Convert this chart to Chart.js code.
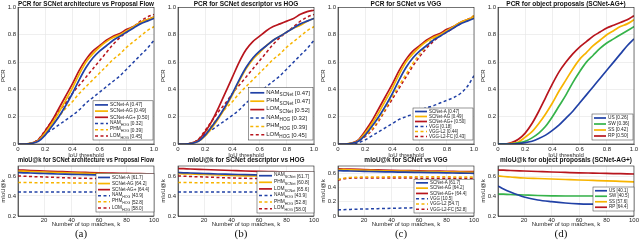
<!DOCTYPE html>
<html>
<head>
<meta charset="utf-8">
<script src="https://cdn.jsdelivr.net/npm/chart.js@4.4.1/dist/chart.umd.min.js"></script>
<style>
  html, body { margin: 0; padding: 0; background: #fff; }
  body { width: 640px; height: 240px; position: relative; overflow: hidden; }
  .panel { position: absolute; }
  .tag { position: absolute; top: 227px; width: 160px; text-align: center; font: 11px 'Liberation Serif', 'DejaVu Serif', serif; color: #111; }
</style>
</head>
<body>
<script>
// IoU thresholds for the PCR curves (top row)
const iou = [0, 0.05, 0.1, 0.15, 0.2, 0.25, 0.3, 0.35, 0.4, 0.45, 0.5, 0.55, 0.6, 0.65, 0.7, 0.75, 0.8, 0.85, 0.9, 0.95, 1];

const scnetA   = [0, 0, 0.005, 0.02, 0.065, 0.13, 0.2, 0.28, 0.37, 0.47, 0.56, 0.63, 0.68, 0.72, 0.76, 0.79, 0.82, 0.85, 0.88, 0.9, 0.92];
const scnetAG  = [0, 0, 0.006, 0.025, 0.08, 0.15, 0.23, 0.32, 0.41, 0.51, 0.6, 0.66, 0.71, 0.75, 0.78, 0.8, 0.83, 0.86, 0.89, 0.91, 0.93];
const scnetAGp = [0, 0, 0.007, 0.03, 0.095, 0.17, 0.26, 0.35, 0.44, 0.54, 0.62, 0.68, 0.72, 0.76, 0.79, 0.81, 0.84, 0.86, 0.89, 0.91, 0.93];
const namHog   = [0, 0, 0.005, 0.03, 0.075, 0.105, 0.14, 0.175, 0.21, 0.25, 0.3, 0.34, 0.38, 0.42, 0.46, 0.5, 0.55, 0.6, 0.65, 0.7, 0.76];
const phmHog   = [0, 0, 0.005, 0.03, 0.085, 0.14, 0.2, 0.26, 0.31, 0.37, 0.42, 0.47, 0.52, 0.57, 0.62, 0.66, 0.71, 0.75, 0.79, 0.83, 0.86];
const lomHog   = [0, 0, 0.006, 0.035, 0.1, 0.17, 0.24, 0.3, 0.37, 0.43, 0.49, 0.55, 0.61, 0.67, 0.73, 0.78, 0.82, 0.86, 0.9, 0.93, 0.95];
const phmScnet = [0, 0, 0.005, 0.02, 0.06, 0.12, 0.19, 0.27, 0.36, 0.46, 0.55, 0.62, 0.67, 0.72, 0.76, 0.79, 0.82, 0.85, 0.87, 0.9, 0.92];
const lomScnet = [0, 0, 0.007, 0.03, 0.09, 0.17, 0.27, 0.38, 0.49, 0.6, 0.69, 0.75, 0.79, 0.83, 0.86, 0.88, 0.9, 0.92, 0.95, 0.97, 0.98];
const vgg      = [0, 0, 0, 0.01, 0.03, 0.06, 0.09, 0.12, 0.15, 0.18, 0.2, 0.22, 0.245, 0.265, 0.28, 0.3, 0.32, 0.34, 0.37, 0.42, 0.5];
const vggL2    = [0, 0, 0.003, 0.02, 0.06, 0.11, 0.18, 0.26, 0.35, 0.43, 0.51, 0.59, 0.66, 0.72, 0.77, 0.8, 0.83, 0.86, 0.89, 0.91, 0.94];
const vggL2fc  = [0, 0, 0.003, 0.02, 0.055, 0.1, 0.17, 0.25, 0.33, 0.41, 0.49, 0.57, 0.64, 0.7, 0.75, 0.79, 0.82, 0.85, 0.88, 0.91, 0.94];
const us       = [0, 0, 0, 0.003, 0.01, 0.02, 0.04, 0.065, 0.1, 0.14, 0.19, 0.24, 0.3, 0.36, 0.42, 0.48, 0.54, 0.6, 0.66, 0.72, 0.77];
const sw       = [0, 0, 0.002, 0.008, 0.02, 0.045, 0.08, 0.13, 0.2, 0.28, 0.36, 0.45, 0.53, 0.6, 0.65, 0.7, 0.74, 0.77, 0.8, 0.83, 0.86];
const ss       = [0, 0, 0.004, 0.015, 0.05, 0.09, 0.15, 0.22, 0.3, 0.39, 0.47, 0.55, 0.62, 0.67, 0.72, 0.76, 0.8, 0.83, 0.86, 0.88, 0.91];
const rp       = [0, 0, 0.01, 0.035, 0.08, 0.15, 0.24, 0.34, 0.44, 0.53, 0.6, 0.66, 0.71, 0.75, 0.79, 0.82, 0.85, 0.87, 0.89, 0.91, 0.94];

// number of top matches k for the mIoU@k curves (bottom row)
const kVals  = [1, 5, 10, 20, 30, 40, 50, 60, 70, 80, 90, 100];
const kTicks = [20, 40, 60, 80, 100];

const scnetAk   = [0.635, 0.632, 0.63, 0.625, 0.62, 0.617, 0.613, 0.61, 0.607, 0.604, 0.6, 0.598];
const scnetAGk  = [0.65, 0.648, 0.645, 0.64, 0.635, 0.63, 0.627, 0.623, 0.62, 0.617, 0.614, 0.61];
const scnetAGpk = [0.66, 0.658, 0.655, 0.65, 0.645, 0.64, 0.636, 0.632, 0.629, 0.626, 0.623, 0.62];
const namHogk   = [0.44, 0.44, 0.44, 0.44, 0.44, 0.44, 0.44, 0.44, 0.438, 0.437, 0.436, 0.435];
const phmHogk   = [0.535, 0.535, 0.534, 0.533, 0.532, 0.531, 0.53, 0.529, 0.528, 0.527, 0.526, 0.525];
const lomHogk   = [0.6, 0.598, 0.595, 0.59, 0.585, 0.58, 0.577, 0.574, 0.572, 0.57, 0.568, 0.566];
const phmScnetk = [0.625, 0.622, 0.62, 0.615, 0.61, 0.605, 0.602, 0.6, 0.597, 0.595, 0.593, 0.59];
const lomScnetk = [0.675, 0.673, 0.67, 0.665, 0.66, 0.655, 0.65, 0.646, 0.643, 0.64, 0.637, 0.635];
const vggk      = [0.085, 0.088, 0.092, 0.098, 0.103, 0.108, 0.112, 0.116, 0.12, 0.124, 0.128, 0.132];
const vggL2k    = [0.51, 0.53, 0.54, 0.545, 0.547, 0.548, 0.548, 0.548, 0.548, 0.548, 0.547, 0.547];
const vggL2fck  = [0.5, 0.52, 0.53, 0.533, 0.533, 0.532, 0.531, 0.53, 0.529, 0.528, 0.528, 0.527];
const usk       = [0.5, 0.47, 0.44, 0.39, 0.36, 0.343, 0.33, 0.322, 0.318, 0.315, 0.313, 0.312];
const swk       = [0.42, 0.418, 0.415, 0.41, 0.405, 0.402, 0.4, 0.4, 0.4, 0.4, 0.4, 0.4];
const ssk       = [0.6, 0.595, 0.59, 0.58, 0.575, 0.57, 0.565, 0.56, 0.556, 0.552, 0.547, 0.542];

const BLUE = '#2141a6', YELLOW = '#f7b400', RED = '#b8151d', GREEN = '#35b34a';

Chart.defaults.font.family = "'Liberation Sans', Arial, sans-serif";
Chart.defaults.color = '#262626';
Chart.defaults.animation = false;

// box around the plot area, like matlab's "box on"
const frame = {
  id: 'frame',
  afterDatasetsDraw(chart) {
    const { left, top, width, height } = chart.chartArea;
    const ctx = chart.ctx;
    ctx.save();
    ctx.strokeStyle = '#222';
    ctx.lineWidth = 0.6;
    ctx.strokeRect(left, top, width, height);
    ctx.restore();
  }
};

// legend drawn inside the plot, bottom right; "NAM_HOG" gets a subscript
const insetLegend = {
  id: 'insetLegend',
  afterDraw(chart, args, o) {
    const ctx = chart.ctx, area = chart.chartArea, sets = chart.data.datasets;
    const fs = o.font, sfs = fs * 0.78;
    ctx.save();
    let tw = 0;
    sets.forEach(ds => {
      const [main, sub] = ds.label.split('_');
      ctx.font = fs + 'px ' + Chart.defaults.font.family;
      let w = ctx.measureText(main + ' [' + ds.score + ']').width;
      if (sub) { ctx.font = sfs + 'px ' + Chart.defaults.font.family; w += ctx.measureText(sub).width; }
      tw = Math.max(tw, w);
    });
    const w = Math.max(o.width, tw + o.line + 7);
    const h = o.rowH * sets.length + 2;
    const x0 = area.right - o.dx - w, y0 = area.bottom - o.dy - h;
    ctx.fillStyle = '#fff';
    ctx.fillRect(x0, y0, w, h);
    ctx.strokeStyle = '#333';
    ctx.lineWidth = 0.5;
    ctx.strokeRect(x0, y0, w, h);
    sets.forEach((ds, i) => {
      const y = y0 + 1 + o.rowH * (i + 0.5);
      ctx.strokeStyle = ds.borderColor;
      ctx.lineWidth = ds.borderWidth;
      ctx.setLineDash(ds.borderDash || []);
      ctx.beginPath();
      ctx.moveTo(x0 + 2, y);
      ctx.lineTo(x0 + 2 + o.line, y);
      ctx.stroke();
      ctx.setLineDash([]);
      ctx.fillStyle = '#222';
      ctx.textBaseline = 'middle';
      const [main, sub] = ds.label.split('_');
      let x = x0 + 4 + o.line;
      ctx.font = fs + 'px ' + Chart.defaults.font.family;
      if (sub) {
        ctx.fillText(main, x, y - fs * 0.15);
        x += ctx.measureText(main).width;
        ctx.font = sfs + 'px ' + Chart.defaults.font.family;
        ctx.fillText(sub, x, y + fs * 0.35);
        x += ctx.measureText(sub).width;
        ctx.font = fs + 'px ' + Chart.defaults.font.family;
        ctx.fillText(' [' + ds.score + ']', x, y + fs * 0.1);
      } else {
        ctx.fillText(main + ' [' + ds.score + ']', x, y);
      }
    });
    ctx.restore();
  }
};

function curve(label, score, xs, ys, color, dashed) {
  return {
    label, score,
    data: ys.map((v, j) => ({ x: xs[j], y: v })),
    borderColor: color,
    borderWidth: dashed ? 1.5 : 1.7,
    borderDash: dashed ? [3, 2.5] : [],
    pointRadius: 0,
    cubicInterpolationMode: 'monotone',
    fill: false
  };
}

function addCanvas(left, top, w, h) {
  const div = document.createElement('div');
  div.className = 'panel';
  div.style.cssText = `left:${left}px;top:${top}px;width:${w}px;height:${h}px`;
  const c = document.createElement('canvas');
  div.appendChild(c);
  document.body.appendChild(div);
  return c;
}

const gridOpts = { color: '#e4e4e4', lineWidth: 0.6, drawTicks: false };
const tickFont = { size: 6 };

function makeChart(canvas, title, titlePad, datasets, scales, legend, padRight) {
  return new Chart(canvas, {
    type: 'line',
    data: { datasets },
    plugins: [frame, insetLegend],
    options: {
      responsive: true,
      maintainAspectRatio: false,
      layout: { padding: { left: 0, right: padRight, top: 0, bottom: 0 } },
      plugins: {
        legend: { display: false },
        tooltip: { enabled: false },
        title: {
          display: true, text: title, fullSize: false, color: '#111',
          font: { size: 6.5, weight: 'bold', lineHeight: 1 },
          padding: titlePad
        },
        insetLegend: legend
      },
      scales
    }
  });
}

// top row: PCR vs IoU threshold
function pcrChart(i, title, datasets, legend) {
  const c = addCanvas(160 * i, 0, 160, 159);
  makeChart(c, title, { top: 1, bottom: 0 }, datasets, {
    x: {
      type: 'linear', min: 0, max: 1,
      grid: gridOpts, border: { color: '#222', width: 0.6 },
      ticks: { stepSize: 0.2, font: tickFont, padding: 1.5, maxRotation: 0 },
      title: { display: true, text: 'IoU threshold', font: tickFont, padding: 0 },
      afterFit: s => { s.height = 15; }
    },
    y: {
      min: 0, max: 1,
      grid: gridOpts, border: { color: '#222', width: 0.6 },
      ticks: { stepSize: 0.2, font: tickFont, padding: 2 },
      title: { display: true, text: 'PCR', font: tickFont, padding: 0 },
      afterFit: s => { s.width = 18; }
    }
  }, legend, 6);
}

// bottom row: mIoU@k vs number of top matches
function miouChart(i, title, datasets, legend, yMin) {
  const c = addCanvas(160 * i, 155, 160, 73);
  makeChart(c, title, { top: 2, bottom: 2.5 }, datasets, {
    x: {
      type: 'linear', min: 1, max: 100,
      grid: gridOpts, border: { color: '#222', width: 0.6 },
      afterBuildTicks: s => { s.ticks = kTicks.map(v => ({ value: v })); },
      ticks: { font: tickFont, padding: 1, maxRotation: 0 },
      title: { display: true, text: 'Number of top matches, k', font: tickFont, padding: 0 },
      afterFit: s => { s.height = 12; }
    },
    y: {
      min: yMin, max: 0.7,
      grid: gridOpts, border: { color: '#222', width: 0.6 },
      ticks: { stepSize: 0.1, font: tickFont, padding: 2 },
      title: { display: true, text: 'mIoU@k', font: tickFont, padding: 0 },
      afterFit: s => { s.width = 18; }
    }
  }, legend, 6);
  const tag = document.createElement('div');
  tag.className = 'tag';
  tag.style.left = (160 * i + 1) + 'px';
  tag.textContent = '(' + 'abcd'[i] + ')';
  document.body.appendChild(tag);
}

pcrChart(0, 'PCR for SCNet architecture vs Proposal Flow', [
  curve('SCNet-A', '0.47', iou, scnetA, BLUE, false),
  curve('SCNet-AG', '0.49', iou, scnetAG, YELLOW, false),
  curve('SCNet-AG+', '0.50', iou, scnetAGp, RED, false),
  curve('NAM_HOG', '0.32', iou, namHog, BLUE, true),
  curve('PHM_HOG', '0.39', iou, phmHog, YELLOW, true),
  curve('LOM_HOG', '0.45', iou, lomHog, RED, true)
], { width: 60, rowH: 6.2, font: 4.8, line: 13, dx: 1, dy: 4 });

pcrChart(1, 'PCR for SCNet descriptor vs HOG', [
  curve('NAM_SCNet', '0.47', iou, scnetA, BLUE, false),
  curve('PHM_SCNet', '0.47', iou, phmScnet, YELLOW, false),
  curve('LOM_SCNet', '0.52', iou, lomScnet, RED, false),
  curve('NAM_HOG', '0.32', iou, namHog, BLUE, true),
  curve('PHM_HOG', '0.39', iou, phmHog, YELLOW, true),
  curve('LOM_HOG', '0.45', iou, lomHog, RED, true)
], { width: 61, rowH: 8.4, font: 6, line: 14, dx: 1, dy: 4 });

pcrChart(2, 'PCR for SCNet vs VGG', [
  curve('SCNet-A', '0.47', iou, scnetA, BLUE, false),
  curve('SCNet-AG', '0.49', iou, scnetAG, YELLOW, false),
  curve('SCNet-AG+', '0.50', iou, scnetAGp, RED, false),
  curve('VGG', '0.18', iou, vgg, BLUE, true),
  curve('VGG-L2', '0.44', iou, vggL2, YELLOW, true),
  curve('VGG-L2-FC', '0.43', iou, vggL2fc, RED, true)
], { width: 60, rowH: 5, font: 4.5, line: 12, dx: 1, dy: 4 });

pcrChart(3, 'PCR for object proposals (SCNet-AG+)', [
  curve('US', '0.26', iou, us, BLUE, false),
  curve('SW', '0.36', iou, sw, GREEN, false),
  curve('SS', '0.42', iou, ss, YELLOW, false),
  curve('RP', '0.50', iou, rp, RED, false)
], { width: 41, rowH: 6, font: 4.8, line: 12, dx: 1, dy: 4 });

miouChart(0, 'mIoU@k for SCNet architecture vs Proposal Flow', [
  curve('SCNet-A', '61.7', kVals, scnetAk, BLUE, false),
  curve('SCNet-AG', '64.2', kVals, scnetAGk, YELLOW, false),
  curve('SCNet-AG+', '64.4', kVals, scnetAGpk, RED, false),
  curve('NAM_HOG', '43.9', kVals, namHogk, BLUE, true),
  curve('PHM_HOG', '52.8', kVals, phmHogk, YELLOW, true),
  curve('LOM_HOG', '58.0', kVals, lomHogk, RED, true)
], { width: 58, rowH: 6.1, font: 4.6, line: 12, dx: 0, dy: 4 }, 0.2);

miouChart(1, 'mIoU@k for SCNet descriptor vs HOG', [
  curve('NAM_SCNet', '61.7', kVals, scnetAk, BLUE, false),
  curve('PHM_SCNet', '60.8', kVals, phmScnetk, YELLOW, false),
  curve('LOM_SCNet', '65.6', kVals, lomScnetk, RED, false),
  curve('NAM_HOG', '43.9', kVals, namHogk, BLUE, true),
  curve('PHM_HOG', '52.8', kVals, phmHogk, YELLOW, true),
  curve('LOM_HOG', '58.0', kVals, lomHogk, RED, true)
], { width: 57, rowH: 6.6, font: 4.8, line: 13, dx: 0, dy: 3 }, 0.2);

miouChart(2, 'mIoU@k for SCNet vs VGG', [
  curve('SCNet-A', '61.7', kVals, scnetAk, BLUE, false),
  curve('SCNet-AG', '64.2', kVals, scnetAGk, YELLOW, false),
  curve('SCNet-AG+', '64.4', kVals, scnetAGpk, RED, false),
  curve('VGG', '10.5', kVals, vggk, BLUE, true),
  curve('VGG-L2', '54.7', kVals, vggL2k, YELLOW, true),
  curve('VGG-L2-FC', '52.8', kVals, vggL2fck, RED, true)
], { width: 60, rowH: 5.3, font: 4.5, line: 12, dx: 0, dy: 3 }, 0);

miouChart(3, 'mIoU@k for object proposals (SCNet-AG+)', [
  curve('US', '40.1', kVals, usk, BLUE, false),
  curve('SW', '40.5', kVals, swk, GREEN, false),
  curve('SS', '57.6', kVals, ssk, YELLOW, false),
  curve('RP', '64.4', kVals, scnetAGpk, RED, false)
], { width: 41, rowH: 5.5, font: 4.5, line: 12, dx: 0, dy: 5 }, 0.2);
</script>
</body>
</html>
